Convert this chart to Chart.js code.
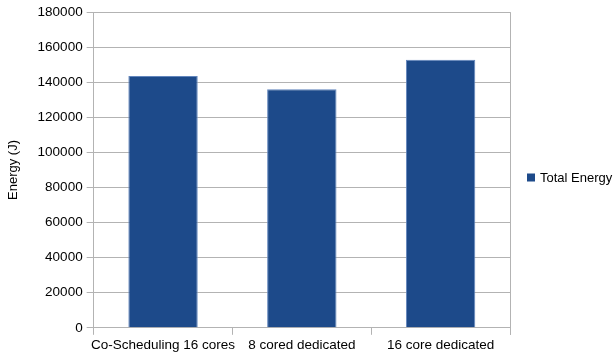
<!DOCTYPE html>
<html>
<head>
<meta charset="utf-8">
<script src="https://cdn.jsdelivr.net/npm/chart.js@4/dist/chart.umd.min.js"></script>
<style>
  html, body { margin: 0; padding: 0; background: #fff; }
  #wrap { width: 615px; height: 355px; }
</style>
</head>
<body>
<div id="wrap"><canvas id="c" width="615" height="355"></canvas></div>
<script>
// Energy use per scheduling configuration
const categories = ['Co-Scheduling 16 cores', '8 cored dedicated', '16 core dedicated'];
const totalEnergy = [143500, 136000, 152800];
const yTicks = [0, 20000, 40000, 60000, 80000, 100000, 120000, 140000, 160000, 180000];

const gridGray = '#b3b3b3';
const barFill = '#1d4a8a';
const fontFamily = '"Liberation Sans", Arial, sans-serif';

// Closes the plot frame on its right-hand side
const rightFrame = {
  id: 'rightFrame',
  afterDraw(chart) {
    const { ctx, chartArea } = chart;
    ctx.save();
    ctx.strokeStyle = gridGray;
    ctx.lineWidth = 1;
    ctx.beginPath();
    const x = Math.round(chartArea.right) + 0.5;
    ctx.moveTo(x, chartArea.top);
    ctx.lineTo(x, chartArea.bottom + 7);
    ctx.stroke();
    ctx.restore();
  }
};

// Legend entry to the right of the plot, vertically centred on the canvas
const sideLegend = {
  id: 'sideLegend',
  afterDraw(chart) {
    const { ctx, chartArea, height } = chart;
    const ds = chart.data.datasets[0];
    const x0 = chartArea.right + 17;
    const cy = height / 2 + 1;
    ctx.save();
    ctx.fillStyle = ds.backgroundColor;
    ctx.fillRect(x0, cy - 5, 8, 8);
    ctx.fillStyle = '#000';
    ctx.font = '13px ' + fontFamily;
    ctx.textBaseline = 'middle';
    ctx.textAlign = 'left';
    ctx.fillText(ds.label, x0 + 13, cy);
    ctx.restore();
  }
};

new Chart(document.getElementById('c'), {
  type: 'bar',
  data: {
    labels: categories,
    datasets: [{
      label: 'Total Energy',
      data: totalEnergy,
      backgroundColor: barFill,
      borderColor: '#6286bd',
      borderWidth: 1,
      categoryPercentage: 1.0,
      barPercentage: 0.5
    }]
  },
  options: {
    responsive: false,
    animation: false,
    devicePixelRatio: 1,
    layout: { padding: { top: 3, right: 105, bottom: 0, left: 6 } },
    plugins: {
      tooltip: { enabled: false },
      legend: { display: false }
    },
    scales: {
      x: {
        offset: true,
        grid: {
          drawOnChartArea: false,
          color: gridGray,
          tickLength: 7,
          offset: true
        },
        border: { color: gridGray },
        ticks: {
          color: '#000',
          padding: 2,
          maxRotation: 0,
          autoSkip: false,
          font: { family: fontFamily, size: 13.5 }
        }
      },
      y: {
        min: 0,
        max: 180000,
        afterBuildTicks(axis) { axis.ticks = yTicks.map(v => ({ value: v })); },
        grid: { color: gridGray, tickLength: 7 },
        border: { color: gridGray },
        title: {
          display: true,
          text: 'Energy (J)',
          color: '#000',
          padding: { top: 0, bottom: 12 },
          font: { family: fontFamily, size: 13 }
        },
        ticks: {
          color: '#000',
          padding: 4,
          font: { family: fontFamily, size: 13.5 },
          callback: v => String(v)
        }
      }
    }
  },
  plugins: [rightFrame, sideLegend]
});
</script>
</body>
</html>
